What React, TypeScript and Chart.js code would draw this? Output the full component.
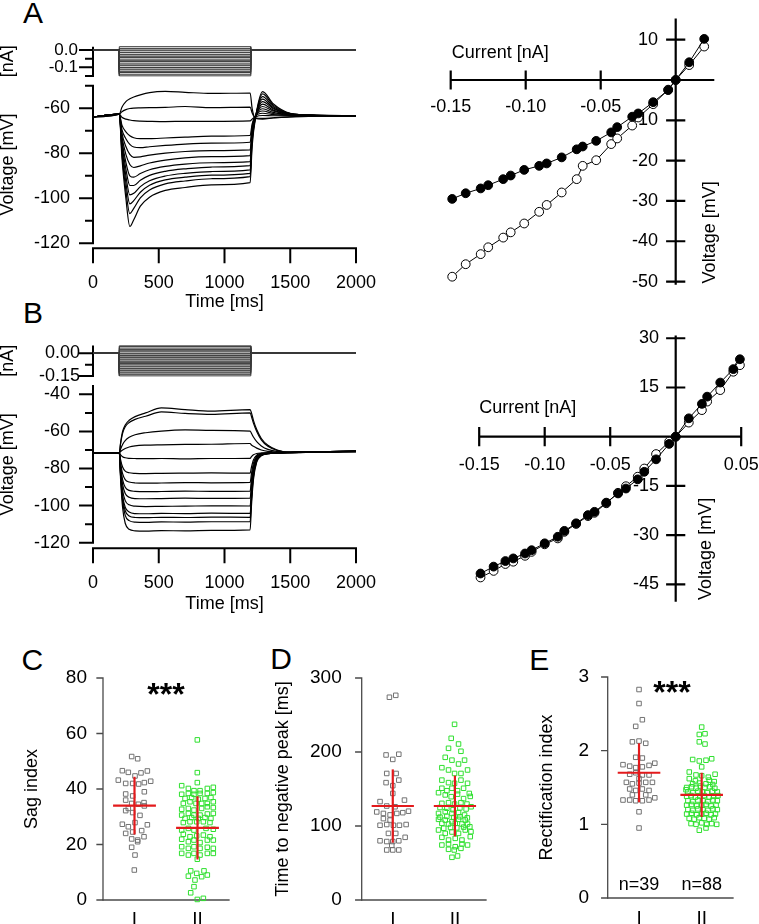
import React, { useEffect, useRef } from 'react';
import { Chart, registerables } from 'chart.js';

Chart.register(...registerables);

const FONT = "'Liberation Sans', Arial, Helvetica, sans-serif";

// ---------------- DATA ----------------
const stepOnMs = 200;
const stepOffMs = 1200;
const sweepEndMs = 2000;
const timeTicks = [0, 500, 1000, 1500, 2000];
const timeTickLabels = ['0', '500', '1000', '1500', '2000'];

// I-V relations (nA, mV relative to rest): filled = steady state, open = negative peak
const ivCurrentA = [-0.149, -0.14, -0.13, -0.125, -0.115, -0.11, -0.101, -0.091, -0.086, -0.076, -0.066, -0.062, -0.053, -0.043, -0.039, -0.029, -0.025, -0.015, -0.005, 0, 0.009, 0.019];
const ivSteadyA = [-29.5, -28.1, -26.9, -26.1, -24.6, -23.7, -22.3, -21.3, -20.7, -19.2, -17.2, -16.5, -15.1, -13.0, -11.7, -9.1, -8.3, -5.5, -2.5, 0, 4.4, 10.2];
const ivPeakA = [-48.8, -45.7, -43.2, -41.5, -39.1, -37.8, -35.6, -32.7, -31.0, -27.9, -24.6, -21.3, -19.9, -15.9, -14.5, -11.3, -9.3, -6.0, -2.4, 0, 3.7, 8.3];

const ivCurrentB = [-0.149, -0.139, -0.13, -0.124, -0.115, -0.11, -0.1, -0.09, -0.085, -0.076, -0.067, -0.062, -0.053, -0.044, -0.038, -0.029, -0.024, -0.015, -0.005, 0, 0.01, 0.02, 0.024, 0.034, 0.044, 0.049];
const ivSteadyB = [-41.7, -39.6, -37.9, -37.1, -35.6, -34.6, -32.5, -30.5, -28.7, -26.4, -23.9, -22.9, -20.1, -17.3, -15.8, -13.0, -10.7, -6.9, -2.2, 0, 5.6, 10.0, 12.2, 16.5, 20.6, 23.6];
const ivPeakB = [-42.9, -40.9, -38.8, -38.1, -36.3, -35.1, -32.8, -31.0, -29.0, -26.6, -24.2, -23.2, -20.3, -17.1, -15.1, -12.2, -9.7, -5.3, -1.5, 0, 4.3, 8.1, 10.7, 14.2, 19.8, 21.8];

// Voltage responses (mV) sampled at the given times (ms)
const traceTimesA = [0, 200, 220, 250, 280, 310, 360, 430, 550, 700, 900, 1195, 1210, 1235, 1290, 1370, 1500, 1700, 2000];
const tracesA = [
  [-63.8, -62.6, -59.5, -57.0, -55.8, -55.0, -54.0, -53.0, -52.5, -52.9, -53.4, -53.2, -60.0, -64.5, -64.8, -64.3, -63.8, -63.5, -63.4],
  [-63.8, -62.6, -61.5, -60.6, -60.1, -59.9, -59.8, -59.7, -59.6, -59.2, -59.7, -59.5, -62.0, -64.3, -64.5, -64.2, -63.8, -63.5, -63.4],
  [-63.8, -62.6, -64.0, -64.8, -65.2, -65.5, -65.7, -65.8, -65.9, -65.8, -65.8, -65.6, -64.8, -63.8, -63.2, -63.3, -63.3, -63.4, -63.4],
  [-63.8, -62.6, -67.5, -70.5, -72.2, -73.1, -73.5, -73.5, -73.2, -72.8, -72.4, -72.1, -67.0, -63.5, -62.2, -62.8, -63.2, -63.3, -63.4],
  [-63.8, -62.6, -69.5, -73.5, -76.0, -77.2, -77.5, -77.1, -76.5, -75.9, -75.5, -75.1, -68.0, -63.5, -61.2, -62.3, -63.0, -63.3, -63.4],
  [-63.8, -62.6, -71.0, -77.0, -80.5, -81.8, -81.6, -80.8, -79.9, -79.2, -78.8, -78.5, -69.0, -63.5, -60.2, -61.8, -62.9, -63.3, -63.4],
  [-63.8, -62.6, -72.5, -80.5, -85.0, -86.3, -85.6, -84.3, -83.0, -82.0, -81.5, -81.0, -70.0, -63.8, -59.2, -61.2, -62.8, -63.2, -63.4],
  [-63.8, -62.6, -74.0, -84.0, -90.0, -90.6, -89.0, -87.3, -85.8, -84.8, -84.2, -83.7, -71.0, -64.0, -58.1, -60.8, -62.7, -63.2, -63.4],
  [-63.8, -62.6, -75.5, -87.0, -94.3, -94.3, -92.0, -89.8, -88.0, -86.9, -86.1, -85.5, -72.0, -64.0, -57.0, -60.2, -62.6, -63.2, -63.4],
  [-63.8, -62.6, -77.0, -90.0, -98.5, -97.8, -94.8, -92.2, -90.1, -88.9, -88.1, -87.4, -73.0, -64.0, -55.9, -59.8, -62.5, -63.1, -63.4],
  [-63.8, -62.6, -78.5, -93.0, -102.5, -101.0, -97.3, -94.2, -91.8, -90.6, -89.7, -88.9, -74.0, -64.2, -54.8, -59.2, -62.4, -63.1, -63.4],
  [-63.8, -62.6, -80.0, -96.5, -106.8, -104.5, -99.8, -96.3, -93.6, -92.3, -91.3, -90.4, -75.0, -64.3, -53.6, -58.6, -62.3, -63.1, -63.4],
  [-63.8, -62.6, -82.0, -100.0, -112.5, -109.5, -103.5, -99.5, -96.5, -95.2, -94.0, -93.0, -77.0, -64.5, -52.6, -58.0, -62.2, -63.0, -63.4],
];

const traceTimesB = [0, 200, 210, 225, 245, 275, 320, 400, 520, 700, 900, 1195, 1205, 1220, 1245, 1280, 1330, 1400, 1500, 1700, 2000];
const tracesB = [
  [-71.7, -71.5, -66.0, -60.0, -56.5, -54.0, -52.0, -50.0, -47.3, -48.2, -49.0, -48.2, -50.0, -54.0, -59.0, -63.8, -67.5, -70.0, -71.2, -71.0, -70.6],
  [-71.7, -71.5, -66.5, -61.0, -57.5, -55.2, -53.5, -51.8, -49.5, -50.3, -50.8, -50.0, -52.0, -55.5, -60.0, -64.5, -68.0, -70.2, -71.3, -71.0, -70.8],
  [-71.7, -71.5, -69.5, -67.0, -65.0, -63.2, -61.8, -60.7, -59.8, -59.2, -59.4, -59.8, -61.0, -63.0, -65.5, -67.8, -69.7, -70.8, -71.4, -71.1, -70.9],
  [-71.7, -71.5, -70.8, -70.0, -69.2, -68.4, -67.8, -67.4, -67.2, -67.0, -66.9, -66.5, -67.3, -68.0, -69.0, -70.0, -70.8, -71.2, -71.4, -71.1, -70.7],
  [-71.7, -71.5, -72.6, -73.6, -74.2, -74.5, -74.6, -74.7, -74.6, -74.8, -74.6, -74.5, -73.6, -72.6, -71.9, -71.6, -71.5, -71.4, -71.3, -71.0, -70.6],
  [-71.7, -71.5, -75.3, -79.2, -81.4, -82.3, -82.6, -82.7, -82.6, -82.5, -82.4, -82.5, -79.2, -75.4, -72.8, -71.9, -71.6, -71.5, -71.3, -71.1, -70.9],
  [-71.7, -71.5, -77.1, -82.8, -86.0, -87.3, -87.8, -87.9, -87.8, -87.6, -87.7, -87.5, -82.8, -77.1, -73.4, -72.1, -71.7, -71.5, -71.3, -71.0, -70.7],
  [-71.7, -71.5, -78.7, -86.0, -90.1, -91.8, -92.3, -92.5, -92.4, -92.2, -92.3, -92.2, -86.0, -78.8, -74.0, -72.3, -71.8, -71.5, -71.4, -71.1, -70.8],
  [-71.7, -71.5, -80.1, -88.6, -93.5, -95.5, -96.2, -96.3, -96.2, -96.0, -96.1, -96.0, -88.6, -80.1, -74.4, -72.5, -71.8, -71.6, -71.3, -71.0, -70.6],
  [-71.7, -71.5, -81.5, -91.6, -97.3, -99.6, -100.3, -100.5, -100.4, -100.3, -100.1, -100.2, -91.6, -81.5, -74.9, -72.6, -71.9, -71.6, -71.4, -71.1, -70.9],
  [-71.7, -71.5, -83.0, -94.4, -100.9, -103.5, -104.3, -104.4, -104.2, -104.3, -104.1, -104.2, -94.6, -82.9, -75.3, -72.8, -72.0, -71.6, -71.3, -71.0, -70.7],
  [-71.7, -71.5, -83.7, -95.9, -102.8, -105.6, -106.4, -106.5, -106.3, -106.4, -106.2, -106.3, -96.0, -83.5, -75.6, -72.9, -72.0, -71.6, -71.4, -71.1, -70.8],
  [-71.7, -71.5, -84.5, -97.6, -105.3, -108.1, -108.9, -109.0, -108.8, -108.9, -108.7, -108.6, -97.4, -84.6, -76.0, -73.0, -72.0, -71.6, -71.3, -71.0, -70.6],
  [-71.7, -71.5, -86.0, -101.0, -109.5, -112.8, -113.6, -113.8, -113.5, -113.6, -113.4, -113.1, -100.0, -86.0, -76.5, -73.2, -72.0, -71.6, -71.4, -71.1, -70.9],
];

// Tick values / labels
const aCurTicks = [-0.1, 0];
const aCurLabels = ['-0.1', '0.0'];
const bCurTicks = [-0.15, 0];
const bCurLabels = ['-0.15', '0.00'];
const aVoltTicks = [-120, -100, -80, -60];
const aVoltLabels = ['-120', '-100', '-80', '-60'];
const bVoltTicks = [-120, -100, -80, -60, -40];
const bVoltLabels = ['-120', '-100', '-80', '-60', '-40'];
const ivXTicksA = [-0.15, -0.1, -0.05];
const ivXLabelsA = ['-0.15', '-0.10', '-0.05'];
const ivYTicksA = [10, -10, -20, -30, -40, -50];
const ivYLabelsA = ['10', '-10', '-20', '-30', '-40', '-50'];
const ivXTicksB = [-0.15, -0.1, -0.05, 0.05];
const ivXLabelsB = ['-0.15', '-0.10', '-0.05', '0.05'];
const ivYTicksB = [30, 15, -15, -30, -45];
const ivYLabelsB = ['30', '15', '-15', '-30', '-45'];

// Group dot plots: [horizontal jitter (category units), value]
const groups = ['I', 'II'];
const groupN = ['n=39', 'n=88'];

const sagTicks = [0, 20, 40, 60, 80];
const sagI = [
  [-0.045, 51.7], [0.05, 50.9], [-0.193, 46.6], [-0.098, 46.0], [0.103, 45.8], [0.204, 46.5], [0.008, 44.7],
  [-0.257, 43.2], [-0.14, 42.0], [-0.029, 42.0], [0.066, 41.8], [0.156, 42.3], [0.257, 42.8], [-0.14, 38.2],
  [-0.029, 37.5], [0.156, 39.0], [-0.14, 36.0], [-0.045, 34.8], [0.061, 34.5], [0.151, 35.1], [-0.14, 32.2],
  [-0.029, 31.5], [0.156, 33.9], [-0.193, 27.3], [-0.098, 26.4], [0.008, 27.9], [0.204, 27.1], [-0.14, 24.0],
  [-0.029, 24.5], [0.114, 25.0], [0.151, 22.8], [-0.045, 22.0], [0.05, 21.6], [0.05, 21.0], [-0.045, 19.0],
  [0.008, 16.2], [-0.003, 10.8], [-0.098, 33.0], [0.087, 30.5],
];
const sagII = [
  [-0.003, 57.7], [-0.003, 45.9], [-0.003, 42.3],
  [-0.251, 41.2], [-0.145, 40.2], [-0.056, 39.4], [0.04, 39.4], [0.156, 40.2], [0.251, 40.6],
  [-0.251, 38.1], [-0.145, 38.4], [-0.056, 38.1], [0.04, 38.4], [0.156, 38.4], [0.251, 38.7],
  [-0.198, 36.6], [-0.093, 36.9], [0.013, 36.3], [0.119, 36.6], [0.213, 36.9],
  [-0.225, 34.8], [-0.119, 35.4], [-0.024, 34.8], [0.066, 34.8], [0.156, 34.8], [0.251, 35.4],
  [-0.251, 32.7], [-0.145, 33.0], [-0.056, 32.4], [0.066, 33.0], [0.156, 33.6], [0.251, 33.3],
  [-0.251, 30.6], [-0.145, 31.2], [-0.056, 30.6], [0.04, 30.6], [0.156, 31.0], [0.251, 31.2],
  [-0.198, 29.4], [-0.093, 29.7], [0.013, 29.4], [0.119, 29.7], [0.213, 29.4],
  [-0.225, 27.9], [-0.119, 28.2], [-0.013, 28.2], [0.093, 28.2], [0.198, 27.9],
  [-0.251, 25.2], [-0.145, 25.8], [-0.056, 25.2], [0.135, 25.8], [0.251, 25.5],
  [-0.225, 23.7], [-0.119, 22.8], [-0.013, 23.1], [0.093, 23.4], [0.198, 22.8],
  [-0.251, 21.9], [-0.145, 21.0], [-0.056, 21.6], [0.04, 20.7], [0.156, 21.6], [0.251, 21.6],
  [-0.251, 19.2], [-0.145, 18.6], [-0.056, 19.2], [0.04, 18.6], [0.156, 19.0], [0.251, 18.6],
  [-0.251, 16.8], [-0.145, 16.2], [-0.056, 16.8], [0.04, 16.2], [0.156, 16.8], [0.251, 16.8],
  [-0.003, 14.7],
  [-0.108, 10.5], [-0.013, 9.6], [0.103, 10.5], [-0.145, 8.6], [0.066, 8.4], [0.156, 9.0],
  [-0.04, 7.2], [-0.056, 4.8], [-0.108, 2.6], [-0.003, 0.2], [0.093, 0.6],
];
const sagMean = [34, 26];
const sagSD = [10.4, 11.4];

const peakTicks = [0, 100, 200, 300];
const peakI = [
  [-0.054, 274], [0.048, 276.6], [-0.108, 196], [0, 190], [0.097, 197], [-0.097, 171], [0.054, 171],
  [-0.108, 158.6], [0, 154.5], [0.097, 162], [0, 144], [-0.205, 133], [-0.097, 127], [0.037, 126], [0.188, 135],
  [-0.258, 119], [-0.151, 117], [-0.043, 115], [0.065, 117], [0.161, 118], [0.253, 120], [-0.151, 110], [-0.043, 108],
  [-0.205, 101], [-0.097, 102], [0.01, 101], [0.107, 101], [0.215, 102], [-0.07, 90], [0.048, 90], [0.199, 84.7],
  [-0.205, 80], [-0.097, 79], [0, 79], [0.097, 80], [-0.016, 74], [-0.097, 67.6], [0, 67.6], [0.097, 67.6],
];
const peakII = [
  [-0.006, 237.4], [-0.06, 218.5], [0.058, 210.8], [-0.103, 205], [0.097, 201],
  [-0.156, 192.8], [-0.048, 189], [0.058, 183.8], [0.155, 189],
  [-0.21, 178.8], [-0.103, 175.7], [-0.006, 171], [0.097, 171], [0.203, 175.7],
  [-0.21, 162], [-0.103, 158.6], [-0.006, 157.7], [0.097, 162], [0.203, 157.7],
  [-0.21, 151], [-0.129, 147.7], [-0.048, 151], [0.042, 147.7], [0.139, 151], [0.231, 144],
  [-0.264, 145], [-0.156, 142], [-0.06, 139.6], [0.042, 143], [0.139, 137], [0.247, 140],
  [-0.21, 130.6], [-0.103, 131.5], [-0.006, 129.7], [0.097, 131.5], [0.194, 129.7],
  [-0.24, 125], [-0.13, 124], [-0.03, 122], [0.08, 124.5], [0.18, 123], [0.26, 126],
  [-0.264, 117], [-0.156, 119.4], [-0.048, 117], [0.058, 118], [0.155, 114.9],
  [-0.24, 112], [-0.13, 113], [-0.02, 111.5], [0.08, 112.5], [0.2, 111],
  [-0.264, 109], [-0.156, 108], [-0.048, 105.9], [0.058, 109], [0.166, 108],
  [-0.21, 103.6], [-0.103, 102.7], [0.005, 103.6], [0.113, 102.7], [0.203, 102.7],
  [-0.18, 97], [-0.07, 98], [0.03, 97.5], [0.14, 98.5], [0.24, 99],
  [-0.264, 94.6], [-0.156, 90], [-0.048, 91.9], [0.058, 90], [0.166, 94.6], [0.258, 92.3],
  [-0.21, 84.7], [-0.103, 81], [0.005, 83.3], [0.113, 81], [0.247, 85.6],
  [-0.21, 74.3], [-0.103, 75.7], [0.005, 72], [0.113, 75.7], [0.203, 74.3],
  [-0.103, 68.5], [-0.011, 67.6], [0.097, 69.8], [-0.048, 57.7], [0.042, 59.5],
];
const peakMean = [127, 127];
const peakSD = [49.5, 41];

const rectTicks = [0, 1, 2, 3];
const rectI = [
  [0, 2.83], [0, 2.64], [0.053, 2.42], [-0.053, 2.33], [-0.106, 2.12], [0, 2.13], [0.107, 2.1],
  [-0.053, 1.91], [0.053, 1.9], [-0.256, 1.81], [-0.149, 1.79], [-0.053, 1.77], [0.053, 1.78], [0.16, 1.8], [0.252, 1.83],
  [-0.149, 1.68], [-0.053, 1.7], [0.053, 1.67], [0.16, 1.67], [0, 1.62],
  [-0.202, 1.57], [-0.106, 1.55], [0, 1.56], [0.107, 1.57], [0.214, 1.57],
  [-0.149, 1.48], [-0.053, 1.46], [0.053, 1.48], [0.16, 1.46], [-0.106, 1.4], [0.107, 1.4],
  [-0.256, 1.33], [-0.149, 1.33], [-0.053, 1.32], [0.053, 1.32], [0.16, 1.33], [0.252, 1.36],
  [0, 1.17], [0, 0.95],
];
const rectII = [
  [0, 2.32], [-0.038, 2.22], [0.053, 2.23], [-0.038, 2.12], [0.053, 2.09],
  [-0.144, 1.88], [-0.038, 1.86], [0.069, 1.87], [0.16, 1.89], [0, 1.78],
  [-0.198, 1.71], [-0.091, 1.67], [0.106, 1.64], [0.214, 1.68], [0, 1.66],
  [-0.198, 1.62], [0.12, 1.6], [-0.1, 1.59], [0.2, 1.58],
  [-0.144, 1.55], [-0.038, 1.56], [0.069, 1.55], [0.176, 1.54],
  [-0.24, 1.5], [-0.16, 1.51], [-0.09, 1.49], [-0.02, 1.52], [0.05, 1.5], [0.13, 1.51], [0.21, 1.49], [-0.25, 1.47],
  [-0.22, 1.44], [-0.14, 1.43], [-0.06, 1.45], [0.01, 1.44], [0.09, 1.43], [0.17, 1.45], [0.25, 1.44],
  [-0.24, 1.38], [-0.17, 1.39], [-0.1, 1.37], [-0.03, 1.38], [0.04, 1.39], [0.12, 1.37], [0.19, 1.38], [0.26, 1.39],
  [-0.22, 1.32], [-0.14, 1.31], [-0.06, 1.33], [0.02, 1.32], [0.1, 1.31], [0.18, 1.33], [0.25, 1.32],
  [-0.24, 1.26], [-0.16, 1.27], [-0.08, 1.25], [0, 1.26], [0.07, 1.27], [0.15, 1.25], [0.23, 1.26],
  [-0.22, 1.2], [-0.14, 1.19], [-0.06, 1.21], [0.02, 1.2], [0.1, 1.19], [0.18, 1.21], [0.25, 1.2],
  [-0.24, 1.14], [-0.16, 1.15], [-0.08, 1.13], [0, 1.14], [0.07, 1.15], [0.15, 1.13], [0.22, 1.14],
  [-0.2, 1.08], [-0.12, 1.07], [-0.04, 1.09], [0.04, 1.08], [0.12, 1.07], [0.2, 1.09],
  [-0.17, 1.01], [-0.09, 1.0], [0, 1.02], [0.08, 1.0], [0.16, 1.01], [0.24, 1.0],
  [-0.038, 0.92], [0.069, 0.95],
];
const rectMean = [1.7, 1.4];
const rectSD = [0.4, 0.3];

// ---------------- STYLE / LAYOUT ----------------
const GREY = '#727272';
const GREEN = '#2fe02f';
const RED = '#e31a1c';
const AXIS_DARK = '#4a4a4a';
const CROSS_HALF = 0.34;

type Rect = { left: number; top: number; width: number; height: number };
type Area = { left: number; top: number; right: number; bottom: number };

const R_ACUR: Rect = { left: 0, top: 28, width: 380, height: 60 };
const R_AVOLT: Rect = { left: 0, top: 72, width: 380, height: 248 };
const R_AIV: Rect = { left: 380, top: 0, width: 379, height: 300 };
const R_BCUR: Rect = { left: 0, top: 328, width: 380, height: 60 };
const R_BVOLT: Rect = { left: 0, top: 372, width: 380, height: 248 };
const R_BIV: Rect = { left: 380, top: 300, width: 379, height: 320 };
const R_C: Rect = { left: 0, top: 640, width: 250, height: 284 };
const R_D: Rect = { left: 250, top: 640, width: 250, height: 284 };
const R_E: Rect = { left: 500, top: 640, width: 259, height: 284 };
const PANEL_RECTS = [R_ACUR, R_AVOLT, R_AIV, R_BCUR, R_BVOLT, R_BIV, R_C, R_D, R_E];

type AxisSpec = {
  dir: 'v' | 'h';
  at?: number;
  off?: number;
  from: number;
  to: number;
  major: number[];
  majA: number;
  majB: number;
  minor?: number[];
  minA?: number;
  minB?: number;
  color: string;
  width: number;
  labels?: string[];
  gap?: number;
  font?: string;
};
type TextSpec = {
  t: string;
  x: number;
  y: number;
  dx?: number;
  dy?: number;
  font: string;
  align?: CanvasTextAlign;
  base?: CanvasTextBaseline;
  rot?: number;
};

function overlayPlugin(id: string, axes: AxisSpec[], texts: TextSpec[]) {
  return {
    id,
    beforeDatasetsDraw(chart: any) {
      const ctx: CanvasRenderingContext2D = chart.ctx;
      const ca = chart.chartArea;
      const xs = chart.scales.x;
      const ys = chart.scales.y;
      ctx.save();
      for (const a of axes) {
        ctx.strokeStyle = a.color;
        ctx.lineWidth = a.width;
        ctx.lineCap = 'square';
        ctx.beginPath();
        const seg = (x1: number, y1: number, x2: number, y2: number) => {
          ctx.moveTo(x1, y1);
          ctx.lineTo(x2, y2);
        };
        if (a.dir === 'v') {
          const x = (a.at === undefined ? ca.left : xs.getPixelForValue(a.at)) + (a.off || 0);
          seg(x, ys.getPixelForValue(a.from), x, ys.getPixelForValue(a.to));
          a.major.forEach((v) => { const y = ys.getPixelForValue(v); seg(x - a.majA, y, x + a.majB, y); });
          (a.minor || []).forEach((v) => { const y = ys.getPixelForValue(v); seg(x - (a.minA || 0), y, x + (a.minB || 0), y); });
          ctx.stroke();
          if (a.labels) {
            ctx.fillStyle = '#000';
            ctx.font = a.font || `18px ${FONT}`;
            ctx.textAlign = 'right';
            ctx.textBaseline = 'middle';
            a.major.forEach((v, i) => ctx.fillText(a.labels![i], x - (a.gap || 0), ys.getPixelForValue(v)));
          }
        } else {
          const y = (a.at === undefined ? ca.bottom : ys.getPixelForValue(a.at)) + (a.off || 0);
          seg(xs.getPixelForValue(a.from), y, xs.getPixelForValue(a.to), y);
          a.major.forEach((v) => { const x = xs.getPixelForValue(v); seg(x, y - a.majA, x, y + a.majB); });
          (a.minor || []).forEach((v) => { const x = xs.getPixelForValue(v); seg(x, y - (a.minA || 0), x, y + (a.minB || 0)); });
          ctx.stroke();
          if (a.labels) {
            ctx.fillStyle = '#000';
            ctx.font = a.font || `18px ${FONT}`;
            ctx.textAlign = 'center';
            ctx.textBaseline = 'middle';
            a.major.forEach((v, i) => ctx.fillText(a.labels![i], xs.getPixelForValue(v), y + (a.gap || 0)));
          }
        }
      }
      for (const t of texts) {
        const x = xs.getPixelForValue(t.x) + (t.dx || 0);
        const y = ys.getPixelForValue(t.y) + (t.dy || 0);
        ctx.save();
        ctx.fillStyle = '#000';
        ctx.font = t.font;
        ctx.textAlign = t.align || 'center';
        ctx.textBaseline = t.base || 'middle';
        ctx.translate(x, y);
        if (t.rot) ctx.rotate(t.rot);
        ctx.fillText(t.t, 0, 0);
        ctx.restore();
      }
      ctx.restore();
    },
  };
}

type EdgeOpts = {
  id: string;
  rect: Rect;
  area: Area;
  x: { min: number; max: number; show: boolean; ticks?: number[]; labels?: string[]; labelY?: number; font?: number; title?: string; titleY?: number };
  y: { min: number; max: number; ticks: number[]; labels: string[]; labelRight: number; font: number; title: string; titleX: number };
  datasets: any[];
  axes: AxisSpec[];
  texts: TextSpec[];
};

function labelFor(ticks: number[], labels: string[]) {
  return (v: number) => {
    const i = ticks.findIndex((t) => Math.abs(t - v) < 1e-9);
    return i >= 0 ? labels[i] : '';
  };
}

function baseOptions(padding: any) {
  return {
    responsive: false,
    maintainAspectRatio: false,
    animation: false,
    events: [],
    devicePixelRatio: 1,
    layout: { padding, autoPadding: false },
    plugins: { legend: { display: false }, tooltip: { enabled: false }, title: { display: false } },
  };
}

function edgeChart(o: EdgeOpts) {
  const { rect, area } = o;
  const yWidth = area.left - rect.left;
  const xHeight = rect.top + rect.height - area.bottom;
  const padding = {
    left: 0,
    top: area.top - rect.top,
    right: rect.left + rect.width - area.right,
    bottom: o.x.show ? 0 : rect.top + rect.height - area.bottom,
  };
  const xFont = o.x.font || 18;
  const xScale: any = o.x.show
    ? {
        type: 'linear',
        position: 'bottom',
        min: o.x.min,
        max: o.x.max,
        bounds: 'data',
        afterFit: (s: any) => { s.height = xHeight; },
        afterBuildTicks: (s: any) => { s.ticks = (o.x.ticks || []).map((v) => ({ value: v })); },
        grid: { display: false, drawOnChartArea: false, drawTicks: true, tickLength: (o.x.labelY || 0) - area.bottom - (xFont * 1.2) / 2 },
        border: { display: false },
        ticks: {
          autoSkip: false,
          maxRotation: 0,
          minRotation: 0,
          padding: 0,
          color: '#000',
          font: { family: FONT, size: xFont },
          callback: labelFor(o.x.ticks || [], o.x.labels || []),
        },
        title: o.x.title
          ? {
              display: true,
              text: o.x.title,
              color: '#000',
              font: { family: FONT, size: 18, lineHeight: 1.2 },
              padding: { top: 0, bottom: rect.top + rect.height - (o.x.titleY || 0) - 10.8 },
            }
          : { display: false },
      }
    : { type: 'linear', min: o.x.min, max: o.x.max, bounds: 'data', display: false };
  const yScale: any = {
    type: 'linear',
    position: 'left',
    min: o.y.min,
    max: o.y.max,
    bounds: 'data',
    afterFit: (s: any) => { s.width = yWidth; },
    afterBuildTicks: (s: any) => { s.ticks = o.y.ticks.map((v) => ({ value: v })); },
    grid: { display: false, drawOnChartArea: false, drawTicks: true, tickLength: area.left - o.y.labelRight },
    border: { display: false },
    ticks: {
      autoSkip: false,
      padding: 0,
      color: '#000',
      font: { family: FONT, size: o.y.font },
      callback: labelFor(o.y.ticks, o.y.labels),
    },
    title: {
      display: true,
      text: o.y.title,
      color: '#000',
      font: { family: FONT, size: 18, lineHeight: 1.2 },
      padding: { top: o.y.titleX - rect.left - 10.8, bottom: 0 },
    },
  };
  return {
    type: 'line',
    data: { datasets: o.datasets },
    options: { ...baseOptions(padding), scales: { x: xScale, y: yScale } },
    plugins: [overlayPlugin(o.id, o.axes, o.texts)],
  };
}

function freeChart(id: string, rect: Rect, area: Area, xr: number[], yr: number[], datasets: any[], axes: AxisSpec[], texts: TextSpec[]) {
  const padding = {
    left: area.left - rect.left,
    top: area.top - rect.top,
    right: rect.left + rect.width - area.right,
    bottom: rect.top + rect.height - area.bottom,
  };
  return {
    type: 'line',
    data: { datasets },
    options: {
      ...baseOptions(padding),
      scales: {
        x: { type: 'linear', min: xr[0], max: xr[1], bounds: 'data', display: false },
        y: { type: 'linear', min: yr[0], max: yr[1], bounds: 'data', display: false },
      },
    },
    plugins: [overlayPlugin(id, axes, texts)],
  };
}

function stepDatasets(steps: number[]) {
  return steps.map((c) => ({
    data: [
      { x: 0, y: 0 }, { x: stepOnMs, y: 0 }, { x: stepOnMs, y: c },
      { x: stepOffMs, y: c }, { x: stepOffMs, y: 0 }, { x: sweepEndMs, y: 0 },
    ],
    borderColor: '#3a3a3a',
    borderWidth: 1,
    pointRadius: 0,
    tension: 0,
    clip: false,
  }));
}

function traceDatasets(times: number[], rows: number[][]) {
  return rows.map((r) => ({
    data: r.map((v, i) => ({ x: times[i], y: v })),
    borderColor: '#000',
    borderWidth: 1.2,
    pointRadius: 0,
    cubicInterpolationMode: 'monotone',
    clip: false,
  }));
}

function ivDatasets(cur: number[], steady: number[], peak: number[]) {
  const mk = (vals: number[], fill: string) => ({
    data: cur.map((c, i) => ({ x: c, y: vals[i] })),
    borderColor: '#000',
    borderWidth: 1,
    backgroundColor: fill,
    pointBackgroundColor: fill,
    pointBorderColor: '#000',
    pointBorderWidth: 1,
    pointRadius: 4.4,
    showLine: true,
    tension: 0,
    clip: false,
  });
  return [mk(steady, '#000'), mk(peak, '#fff')];
}

function dotDatasets(ptsI: number[][], ptsII: number[][], mean: number[], sd: number[]) {
  const cross = (cat: number, m: number, s: number) => [
    { data: [{ x: cat - CROSS_HALF, y: m }, { x: cat + CROSS_HALF, y: m }], borderColor: RED, borderWidth: 2.2, pointRadius: 0, order: 0, clip: false },
    { data: [{ x: cat, y: m - s }, { x: cat, y: m + s }], borderColor: RED, borderWidth: 2.2, pointRadius: 0, order: 0, clip: false },
  ];
  const dots = (pts: number[][], cat: number, color: string) => ({
    data: pts.map((p) => ({ x: cat + p[0], y: p[1] })),
    showLine: false,
    pointStyle: 'rect',
    pointRadius: 3.2,
    pointBorderWidth: 1,
    pointBorderColor: color,
    pointBackgroundColor: 'rgba(0,0,0,0)',
    borderColor: color,
    backgroundColor: 'rgba(0,0,0,0)',
    order: 1,
    clip: false,
  });
  return [...cross(1, mean[0], sd[0]), ...cross(2, mean[1], sd[1]), dots(ptsI, 1, GREY), dots(ptsII, 2, GREEN)];
}

function buildConfigs() {
  const F18 = `18px ${FONT}`;
  const STAR = `bold 32px ${FONT}`;
  const configs: any[] = [];

  // ---- A: current steps ----
  configs.push(edgeChart({
    id: 'aCur',
    rect: R_ACUR,
    area: { left: 93, top: 46.5, right: 356, bottom: 76 },
    x: { min: 0, max: sweepEndMs, show: false },
    y: { min: -0.15, max: 0.02, ticks: aCurTicks, labels: aCurLabels, labelRight: 78, font: 17, title: '[nA]', titleX: 8 },
    datasets: stepDatasets(ivCurrentA),
    axes: [{ dir: 'v', from: 0.013, to: -0.15, major: [0, -0.1], majA: 13, majB: 0, minor: [-0.05, -0.15], minA: 7, minB: 0, color: '#000', width: 2 }],
    texts: [],
  }));
  // ---- A: voltage ----
  configs.push(edgeChart({
    id: 'aVolt',
    rect: R_AVOLT,
    area: { left: 93, top: 85.8, right: 356, bottom: 243.3 },
    x: { min: 0, max: sweepEndMs, show: true, ticks: timeTicks, labels: timeTickLabels, labelY: 283, font: 18, title: 'Time [ms]', titleY: 302 },
    y: { min: -120, max: -50, ticks: aVoltTicks, labels: aVoltLabels, labelRight: 70, font: 18, title: 'Voltage [mV]', titleX: 8 },
    datasets: traceDatasets(traceTimesA, tracesA),
    axes: [
      { dir: 'v', from: -50, to: -120, major: aVoltTicks, majA: 13, majB: 0, minor: [-50, -70, -90, -110], minA: 7, minB: 0, color: '#000', width: 2 },
      { dir: 'h', off: 5, from: 0, to: sweepEndMs, major: timeTicks, majA: 0, majB: 14, color: '#000', width: 2 },
    ],
    texts: [],
  }));
  // ---- A: I-V ----
  configs.push(freeChart('aIV', R_AIV,
    { left: 435.7, top: 15.5, right: 720.7, bottom: 289.6 },
    [-0.16, 0.03], [-52, 16],
    ivDatasets(ivCurrentA, ivSteadyA, ivPeakA),
    [
      { dir: 'h', at: 0, from: -0.15, to: 0.025, major: ivXTicksA, majA: 8.5, majB: 8.5, color: '#000', width: 2.2, labels: ivXLabelsA, gap: 27, font: F18 },
      { dir: 'v', at: 0, from: 15, to: -50.5, major: ivYTicksA, majA: 8.5, majB: 8.5, color: '#000', width: 2.2, labels: ivYLabelsA, gap: 17.7, font: F18 },
    ],
    [
      { t: 'Current [nA]', x: -0.15, y: 0, dx: 1, dy: -27, font: F18, align: 'left' },
      { t: 'Voltage [mV]', x: 0, y: -37.8, dx: 34.3, font: F18, rot: -Math.PI / 2 },
    ],
  ));

  // ---- B: current steps ----
  configs.push(edgeChart({
    id: 'bCur',
    rect: R_BCUR,
    area: { left: 93, top: 345.7, right: 356, bottom: 376 },
    x: { min: 0, max: sweepEndMs, show: false },
    y: { min: -0.15, max: 0.05, ticks: bCurTicks, labels: bCurLabels, labelRight: 80, font: 18, title: '[nA]', titleX: 8 },
    datasets: stepDatasets(ivCurrentB),
    axes: [{ dir: 'v', from: 0.045, to: -0.15, major: [0, -0.15], majA: 13, majB: 0, minor: [-0.075], minA: 7, minB: 0, color: '#000', width: 2 }],
    texts: [],
  }));
  // ---- B: voltage ----
  configs.push(edgeChart({
    id: 'bVolt',
    rect: R_BVOLT,
    area: { left: 93, top: 386, right: 356, bottom: 542.7 },
    x: { min: 0, max: sweepEndMs, show: true, ticks: timeTicks, labels: timeTickLabels, labelY: 583, font: 18, title: 'Time [ms]', titleY: 604 },
    y: { min: -120, max: -35.5, ticks: bVoltTicks, labels: bVoltLabels, labelRight: 70, font: 18, title: 'Voltage [mV]', titleX: 8 },
    datasets: traceDatasets(traceTimesB, tracesB),
    axes: [
      { dir: 'v', from: -35.5, to: -120, major: bVoltTicks, majA: 13, majB: 0, minor: [-50, -70, -90, -110], minA: 7, minB: 0, color: '#000', width: 2 },
      { dir: 'h', off: 5.6, from: 0, to: sweepEndMs, major: timeTicks, majA: 0, majB: 14, color: '#000', width: 2 },
    ],
    texts: [],
  }));
  // ---- B: I-V ----
  configs.push(freeChart('bIV', R_BIV,
    { left: 466.1, top: 331.7, right: 754.3, bottom: 607.3 },
    [-0.16, 0.06], [-52, 32],
    ivDatasets(ivCurrentB, ivSteadyB, ivPeakB),
    [
      { dir: 'h', at: 0, from: -0.15, to: 0.05, major: ivXTicksB, majA: 8.5, majB: 8.5, color: '#000', width: 2.2, labels: ivXLabelsB, gap: 28.3, font: F18 },
      { dir: 'v', at: 0, from: 30.5, to: -50, major: ivYTicksB, majA: 8.5, majB: 8.5, color: '#000', width: 2.2, labels: ivYLabelsB, gap: 16.7, font: F18 },
    ],
    [
      { t: 'Current [nA]', x: -0.15, y: 0, dx: 0, dy: -28.7, font: F18, align: 'left' },
      { t: 'Voltage [mV]', x: 0, y: -34.2, dx: 30.3, font: F18, rot: -Math.PI / 2 },
    ],
  ));

  // ---- C: sag index ----
  configs.push(edgeChart({
    id: 'cSag',
    rect: R_C,
    area: { left: 103, top: 678, right: 229, bottom: 900 },
    x: { min: 0.5, max: 2.5, show: true, ticks: [1, 2], labels: groups, labelY: 920, font: 19 },
    y: { min: 0, max: 80, ticks: sagTicks, labels: sagTicks.map(String), labelRight: 87, font: 19, title: 'Sag index', titleX: 32 },
    datasets: dotDatasets(sagI, sagII, sagMean, sagSD),
    axes: [
      { dir: 'v', from: 0, to: 80, major: sagTicks, majA: 6, majB: 0, color: AXIS_DARK, width: 1.3 },
      { dir: 'h', from: 0.5, to: 2.5, major: [], majA: 0, majB: 0, color: AXIS_DARK, width: 1.3 },
    ],
    texts: [{ t: '***', x: 1.5, y: 80, dy: 27, font: STAR, base: 'alphabetic' }],
  }));
  // ---- D: time to negative peak ----
  configs.push(edgeChart({
    id: 'dPeak',
    rect: R_D,
    area: { left: 361.7, top: 678, right: 486, bottom: 900 },
    x: { min: 0.5, max: 2.5, show: true, ticks: [1, 2], labels: groups, labelY: 920, font: 19 },
    y: { min: 0, max: 300, ticks: peakTicks, labels: peakTicks.map(String), labelRight: 341.7, font: 19, title: 'Time to negative peak [ms]', titleX: 283 },
    datasets: dotDatasets(peakI, peakII, peakMean, peakSD),
    axes: [
      { dir: 'v', from: 0, to: 300, major: peakTicks, majA: 6, majB: 0, color: AXIS_DARK, width: 1.3 },
      { dir: 'h', from: 0.5, to: 2.5, major: [], majA: 0, majB: 0, color: AXIS_DARK, width: 1.3 },
    ],
    texts: [],
  }));
  // ---- E: rectification index ----
  configs.push(edgeChart({
    id: 'eRect',
    rect: R_E,
    area: { left: 607.7, top: 677, right: 733, bottom: 898 },
    x: { min: 0.5, max: 2.5, show: true, ticks: [1, 2], labels: groups, labelY: 918.5, font: 19 },
    y: { min: 0, max: 3, ticks: rectTicks, labels: rectTicks.map(String), labelRight: 589, font: 19, title: 'Rectification index', titleX: 546.7 },
    datasets: dotDatasets(rectI, rectII, rectMean, rectSD),
    axes: [
      { dir: 'v', from: 0, to: 3, major: rectTicks, majA: 6, majB: 0, color: AXIS_DARK, width: 1.3 },
      { dir: 'h', from: 0.5, to: 2.5, major: [], majA: 0, majB: 0, color: AXIS_DARK, width: 1.3 },
    ],
    texts: [
      { t: '***', x: 1.526, y: 3, dy: 26, font: STAR, base: 'alphabetic' },
      { t: groupN[0], x: 1, y: 0, dy: -13, font: F18 },
      { t: groupN[1], x: 2, y: 0, dy: -13, font: F18 },
    ],
  }));
  return configs;
}

const LETTERS = [
  { t: 'A', left: 23, top: -2.4 },
  { t: 'B', left: 23, top: 298.1 },
  { t: 'C', left: 21.5, top: 644.6 },
  { t: 'D', left: 270.3, top: 644.4 },
  { t: 'E', left: 529.3, top: 644.6 },
];

export default function App() {
  const refs = useRef<(HTMLCanvasElement | null)[]>([]);
  useEffect(() => {
    document.body.style.margin = '0';
    document.body.style.overflow = 'hidden';
    const configs = buildConfigs();
    const charts = configs.map((cfg: any, i: number) => new Chart(refs.current[i] as HTMLCanvasElement, cfg));
    return () => charts.forEach((c) => c.destroy());
  }, []);
  return (
    <div style={{ position: 'absolute', left: 0, top: 0, width: 759, height: 924, background: '#fff', overflow: 'hidden', fontFamily: FONT }}>
      {LETTERS.map((l) => (
        <div key={l.t} style={{ position: 'absolute', left: l.left, top: l.top, fontSize: 30, lineHeight: '30px', fontFamily: FONT, color: '#000' }}>{l.t}</div>
      ))}
      {PANEL_RECTS.map((r, i) => (
        <canvas
          key={i}
          ref={(el) => { refs.current[i] = el; }}
          width={r.width}
          height={r.height}
          style={{ position: 'absolute', left: r.left, top: r.top, width: r.width, height: r.height }}
        />
      ))}
    </div>
  );
}
